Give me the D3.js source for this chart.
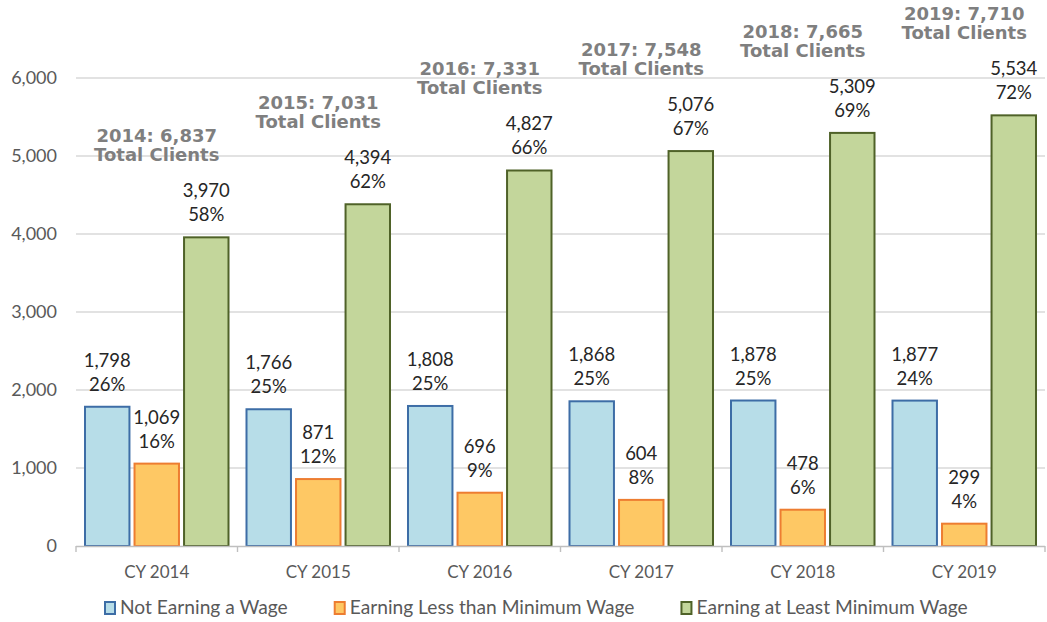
<!DOCTYPE html>
<html>
<head>
<meta charset="utf-8">
<script src="https://cdn.jsdelivr.net/npm/d3@7"></script>
<style>
  html, body { margin: 0; padding: 0; background: #ffffff; }
  svg { display: block; font-family: Lato, "Open Sans", sans-serif; }
</style>
</head>
<body>
<svg id="chart" width="1047" height="622"></svg>
<script>
// ---- data ----
const categories = ["CY 2014", "CY 2015", "CY 2016", "CY 2017", "CY 2018", "CY 2019"];
const years = ["2014", "2015", "2016", "2017", "2018", "2019"];
const seriesNames = ["Not Earning a Wage", "Earning Less than Minimum Wage", "Earning at Least Minimum Wage"];
const notEarning = [1798, 1766, 1808, 1868, 1878, 1877];
const lessThanMin = [1069, 871, 696, 604, 478, 299];
const atLeastMin = [3970, 4394, 4827, 5076, 5309, 5534];
const notEarningPct = ["26%", "25%", "25%", "25%", "25%", "24%"];
const lessThanMinPct = ["16%", "12%", "9%", "8%", "6%", "4%"];
const atLeastMinPct = ["58%", "62%", "66%", "67%", "69%", "72%"];
const totalClients = [6837, 7031, 7331, 7548, 7665, 7710];
const yTicks = [0, 1000, 2000, 3000, 4000, 5000, 6000];

// ---- styles ----
const fills = ["#b7dde8", "#fec864", "#c3d69b"];
const strokes = ["#3d6da6", "#ed7d31", "#4f6228"];
const seriesValues = [notEarning, lessThanMin, atLeastMin];
const seriesPcts = [notEarningPct, lessThanMinPct, atLeastMinPct];

const svg = d3.select("#chart");
const plotLeft = 76, plotRight = 1045, plotTop = 78, plotBottom = 546;

const x0 = d3.scaleBand().domain(categories).range([plotLeft, plotRight]).padding(0);
const x1 = d3.scaleBand().domain(d3.range(3)).range([8, x0.bandwidth() - 8]).paddingInner(0.062).paddingOuter(0);
const y = d3.scaleLinear().domain([0, 6000]).range([plotBottom, plotTop]);

// gridlines
svg.append("g").selectAll("line")
  .data(yTicks.filter(t => t > 0))
  .join("line")
  .attr("x1", plotLeft).attr("x2", plotRight)
  .attr("y1", d => y(d)).attr("y2", d => y(d))
  .attr("stroke", "#d9d9d9").attr("stroke-width", 1.4);

// y axis labels
const fmt = d3.format(",");
svg.append("g").selectAll("text")
  .data(yTicks)
  .join("text")
  .attr("x", 57).attr("y", d => y(d))
  .attr("dy", "0.36em")
  .attr("text-anchor", "end")
  .attr("font-size", 18)
  .attr("fill", "#595959")
  .text(d => fmt(d));

// bars
const groups = svg.append("g").selectAll("g")
  .data(categories)
  .join("g")
  .attr("transform", d => `translate(${x0(d)},0)`);

groups.each(function(cat, ci) {
  const g = d3.select(this);
  for (let s = 0; s < 3; s++) {
    const v = seriesValues[s][ci];
    g.append("rect")
      .attr("x", x1(s) + 1)
      .attr("width", x1.bandwidth() - 2)
      .attr("y", y(v) + 1)
      .attr("height", plotBottom - y(v) - 1)
      .attr("fill", fills[s])
      .attr("stroke", strokes[s])
      .attr("stroke-width", 2);
    const cx = x1(s) + x1.bandwidth() / 2;
    const lbl = g.append("text")
      .attr("text-anchor", "middle")
      .attr("font-size", 18.5)
      .attr("fill", "#262626");
    lbl.append("tspan").attr("x", cx).attr("y", y(v) - 39).text(fmt(v));
    lbl.append("tspan").attr("x", cx).attr("y", y(v) - 15).text(seriesPcts[s][ci]);
  }
  // total label
  const gy = y(atLeastMin[ci]) - 75;
  const tcx = x0.bandwidth() / 2;
  const tl = g.append("text")
    .attr("text-anchor", "middle")
    .attr("font-family", "'DejaVu Sans', Verdana, sans-serif")
    .attr("font-size", 18).attr("font-weight", "bold")
    .attr("fill", "#7f7f7f");
  tl.append("tspan").attr("x", tcx).attr("y", gy - 19).text(`${years[ci]}: ${fmt(totalClients[ci])}`);
  tl.append("tspan").attr("x", tcx).attr("y", gy).text("Total Clients");
});

// x axis
const axisG = svg.append("g");
axisG.append("line")
  .attr("x1", plotLeft).attr("x2", plotRight)
  .attr("y1", plotBottom + 0.5).attr("y2", plotBottom + 0.5)
  .attr("stroke", "#bfbfbf").attr("stroke-width", 1.4);
const boundaries = categories.map(c => x0(c)).concat([plotRight]);
axisG.selectAll("line.tick")
  .data(boundaries)
  .join("line")
  .attr("class", "tick")
  .attr("x1", d => d).attr("x2", d => d)
  .attr("y1", plotBottom).attr("y2", plotBottom + 6)
  .attr("stroke", "#bfbfbf").attr("stroke-width", 1.4);
axisG.selectAll("text")
  .data(categories)
  .join("text")
  .attr("x", d => x0(d) + x0.bandwidth() / 2)
  .attr("y", 578)
  .attr("text-anchor", "middle")
  .attr("font-size", 17)
  .attr("fill", "#595959")
  .text(d => d);

// legend
const legend = svg.append("g");
let lx = 104;
seriesNames.forEach((name, i) => {
  legend.append("rect")
    .attr("x", lx + 1).attr("y", 602)
    .attr("width", 10).attr("height", 12)
    .attr("fill", fills[i]).attr("stroke", strokes[i]).attr("stroke-width", 2);
  const t = legend.append("text")
    .attr("x", lx + 16).attr("y", 614)
    .attr("font-size", 19.2)
    .attr("fill", "#595959")
    .text(name);
  lx += 16 + t.node().getComputedTextLength() + 46;
});
</script>
</body>
</html>
